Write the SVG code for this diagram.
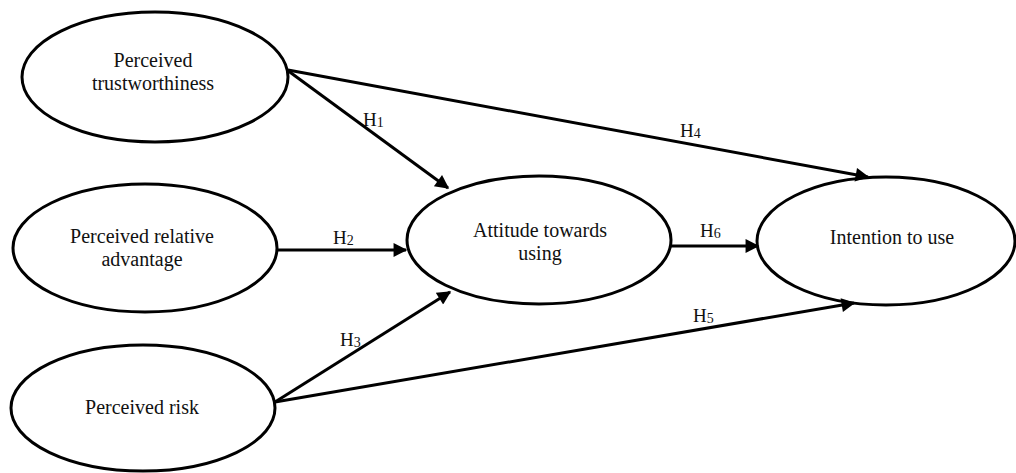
<svg xmlns="http://www.w3.org/2000/svg" width="1016" height="473" viewBox="0 0 1016 473">
<style>
.node ellipse{fill:#fff;stroke:#000;stroke-width:3}
text{font-family:"Liberation Serif","Times New Roman",serif;fill:#111}
.t{font-size:20px;text-anchor:middle}
.lab{font-size:19px}
.sub{font-size:14px}
.edges line{stroke:#000;stroke-width:3;fill:none}
</style>
<defs>
<marker id="arr" viewBox="0 0 10 10" refX="9" refY="5" markerWidth="5.6" markerHeight="4.6" markerUnits="strokeWidth" orient="auto">
<path d="M0,0 L10,5 L0,10 z" fill="#000"/>
</marker>
</defs>
<rect width="1016" height="473" fill="#fff"/>
<g id="n-trust" class="node">
<ellipse cx="155" cy="77" rx="133" ry="65"/>
<text class="t" x="153" y="67">Perceived</text>
<text class="t" x="153" y="90">trustworthiness</text>
</g>
<g id="n-advantage" class="node">
<ellipse cx="145" cy="248" rx="132" ry="64"/>
<text class="t" x="142" y="243">Perceived relative</text>
<text class="t" x="142" y="266">advantage</text>
</g>
<g id="n-risk" class="node">
<ellipse cx="143" cy="408" rx="132" ry="63"/>
<text class="t" x="142" y="414">Perceived risk</text>
</g>
<g id="n-attitude" class="node">
<ellipse cx="539" cy="240" rx="132" ry="64"/>
<text class="t" x="540" y="237">Attitude towards</text>
<text class="t" x="540" y="260">using</text>
</g>
<g id="n-intention" class="node">
<ellipse cx="886" cy="241" rx="129" ry="64"/>
<text class="t" x="892" y="244">Intention to use</text>
</g>
<g id="edges" class="edges">
<line x1="287" y1="70" x2="448" y2="188" marker-end="url(#arr)"/>
<line x1="288" y1="70" x2="868" y2="177" marker-end="url(#arr)"/>
<line x1="277" y1="250" x2="406" y2="250" marker-end="url(#arr)"/>
<line x1="671" y1="246" x2="758" y2="246" marker-end="url(#arr)"/>
<line x1="275" y1="402" x2="450" y2="292" marker-end="url(#arr)"/>
<line x1="275" y1="402" x2="854" y2="303" marker-end="url(#arr)"/>
</g>
<g id="labels">
<text class="lab" x="363" y="126">H<tspan class="sub" dy="1">1</tspan></text>
<text class="lab" x="680" y="137">H<tspan class="sub" dy="1">4</tspan></text>
<text class="lab" x="333" y="244">H<tspan class="sub" dy="1">2</tspan></text>
<text class="lab" x="700" y="237">H<tspan class="sub" dy="1">6</tspan></text>
<text class="lab" x="340" y="346">H<tspan class="sub" dy="1">3</tspan></text>
<text class="lab" x="693" y="322">H<tspan class="sub" dy="1">5</tspan></text>
</g>
</svg>
